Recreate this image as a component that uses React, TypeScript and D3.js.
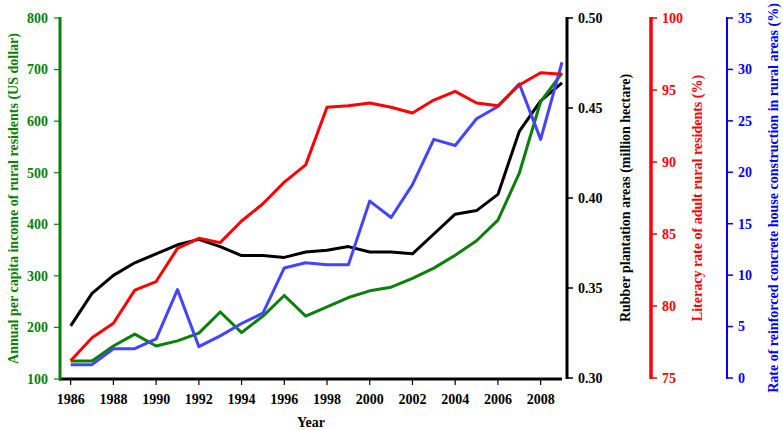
import React from "react";
import * as d3 from "d3";

const years = [1986, 1987, 1988, 1989, 1990, 1991, 1992, 1993, 1994, 1995, 1996, 1997, 1998, 1999, 2000, 2001, 2002, 2003, 2004, 2005, 2006, 2007, 2008, 2009];
const income = [135, 135, 164, 187, 164, 174, 189, 230, 190, 222, 262, 222, 240, 258, 271, 278, 295, 315, 340, 368, 408, 499, 638, 693];
const rubber = [0.329, 0.347, 0.357, 0.364, 0.369, 0.374, 0.377, 0.373, 0.368, 0.368, 0.367, 0.370, 0.371, 0.373, 0.370, 0.370, 0.369, 0.380, 0.391, 0.393, 0.402, 0.437, 0.454, 0.464];
const literacy = [76.2, 77.8, 78.8, 81.1, 81.7, 84.0, 84.7, 84.4, 85.9, 87.1, 88.6, 89.8, 93.8, 93.9, 94.1, 93.8, 93.4, 94.3, 94.9, 94.1, 93.9, 95.35, 96.2, 96.1];
const concrete = [1.3, 1.3, 2.85, 2.85, 3.8, 8.6, 3.05, 4.1, 5.3, 6.3, 10.7, 11.2, 11.0, 11.0, 17.2, 15.6, 18.8, 23.2, 22.6, 25.2, 26.4, 28.6, 23.2, 30.7];

const yearTicks = [1986, 1988, 1990, 1992, 1994, 1996, 1998, 2000, 2002, 2004, 2006, 2008];
const incomeTicks = [100, 200, 300, 400, 500, 600, 700, 800];
const rubberTicks = [0.30, 0.35, 0.40, 0.45, 0.50];
const literacyTicks = [75, 80, 85, 90, 95, 100];
const concreteTicks = [0, 5, 10, 15, 20, 25, 30, 35];

const FONT = "'Liberation Serif', 'Times New Roman', serif";
const GREEN = "#0a800a";
const RED = "#ff0000";
const BLUE_LINE = "#4444ff";
const BLUE_AXIS = "#0000ff";

export default function App() {
  const top = 18;
  const bottom = 379;
  const x = d3.scaleLinear().domain([1985.5, 2009]).range([60, 562]);
  const yIncome = d3.scaleLinear().domain([100, 800]).range([bottom, top]);
  const yRubber = d3.scaleLinear().domain([0.3, 0.5]).range([378, top]);
  const yLit = d3.scaleLinear().domain([75, 100]).range([378, top]);
  const yConc = d3.scaleLinear().domain([0, 35]).range([378, top]);

  const mk = (vals: number[], y: d3.ScaleLinear<number, number>) =>
    d3.line<number>().x((_, i) => x(years[i])).y((v) => y(v))(vals) || "";

  const rightAxis = (
    ax: number,
    y: d3.ScaleLinear<number, number>,
    ticks: number[],
    color: string,
    fmt: (v: number) => string,
    title: string,
    titleX: number,
    width: number
  ) => (
    <g>
      <line x1={ax} x2={ax} y1={y(ticks[0]) + 1} y2={y(ticks[ticks.length - 1]) - 1} stroke={color} strokeWidth={width} />
      {ticks.map((t) => (
        <g key={t}>
          <line x1={ax} x2={ax + 6} y1={y(t)} y2={y(t)} stroke={color} strokeWidth={1.5} />
          <text x={ax + 11} y={y(t)} dy="0.35em" fill={color} fontSize={14} fontWeight="bold" fontFamily={FONT}>
            {fmt(t)}
          </text>
        </g>
      ))}
      <text
        transform={`translate(${titleX},${(top + 378) / 2}) rotate(-90)`}
        textAnchor="middle"
        dominantBaseline="central"
        fill={color}
        fontSize={14}
        fontWeight="bold"
        fontFamily={FONT}
      >
        {title}
      </text>
    </g>
  );

  return (
    <svg width={783} height={430} style={{ position: "absolute", left: 0, top: 0, background: "#fff" }}>
      {/* data lines */}
      <path d={mk(rubber, yRubber)} fill="none" stroke="#000" strokeWidth={3} strokeLinejoin="round" />
      <path d={mk(income, yIncome)} fill="none" stroke={GREEN} strokeWidth={3} strokeLinejoin="round" />
      <path d={mk(concrete, yConc)} fill="none" stroke={BLUE_LINE} strokeWidth={3} strokeLinejoin="round" />
      <path d={mk(literacy, yLit)} fill="none" stroke={RED} strokeWidth={3} strokeLinejoin="round" />

      {/* bottom axis */}
      <line x1={59} x2={562} y1={bottom} y2={bottom} stroke="#000" strokeWidth={3} />
      {yearTicks.map((t) => (
        <g key={t}>
          <line x1={x(t)} x2={x(t)} y1={bottom} y2={bottom + 6} stroke="#000" strokeWidth={1.2} />
          <text x={x(t)} y={404} textAnchor="middle" fontSize={14} fontWeight="bold" fontFamily={FONT} fill="#000">
            {t}
          </text>
        </g>
      ))}
      <text x={311} y={427} textAnchor="middle" fontSize={14} fontWeight="bold" fontFamily={FONT} fill="#000">
        Year
      </text>

      {/* left axis */}
      <line x1={60} x2={60} y1={yIncome(100) + 1.5} y2={yIncome(800) - 1} stroke={GREEN} strokeWidth={3} />
      {incomeTicks.map((t) => (
        <g key={t}>
          <line x1={54} x2={60} y1={yIncome(t)} y2={yIncome(t)} stroke={GREEN} strokeWidth={1.2} />
          <text x={48} y={yIncome(t)} dy="0.35em" textAnchor="end" fontSize={14} fontWeight="bold" fontFamily={FONT} fill={GREEN}>
            {t}
          </text>
        </g>
      ))}
      <text
        transform={`translate(13,${(top + bottom) / 2}) rotate(-90)`}
        textAnchor="middle"
        dominantBaseline="central"
        fill={GREEN}
        fontSize={14}
        fontWeight="bold"
        fontFamily={FONT}
      >
        Annual per capita income of rural residents (US dollar)
      </text>

      {rightAxis(567, yRubber, rubberTicks, "#000", (v) => v.toFixed(2), "Rubber plantation areas (million hectare)", 625, 3)}
      {rightAxis(651, yLit, literacyTicks, RED, (v) => String(v), "Literacy rate of adult rural residents (%)", 697, 3.5)}
      {rightAxis(727, yConc, concreteTicks, BLUE_AXIS, (v) => String(v), "Rate of reinforced concrete house construction in rural areas (%)", 773, 2)}
    </svg>
  );
}
